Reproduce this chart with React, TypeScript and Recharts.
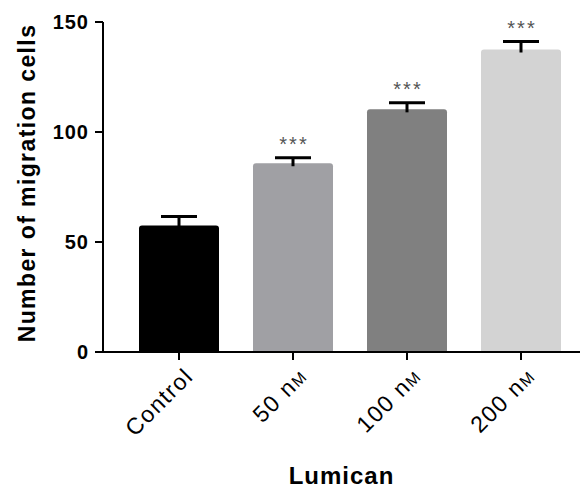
import React from "react";
import { BarChart, Bar, XAxis, YAxis, Rectangle } from "recharts";

const groups = ["Control", "50 nM", "100 nM", "200 nM"];
const means = [57.5, 85.8, 110.3, 137.5];
const sems = [4.1, 2.5, 3.0, 3.6];
const marks = ["", "***", "***", "***"];
const yTicks = [0, 50, 100, 150];

const barColors = ["#000000", "#a0a0a4", "#808080", "#d3d3d3"];

const data = groups.map((name, i) => ({
  name,
  value: means[i],
  err: sems[i],
  mark: marks[i],
  color: barColors[i],
}));

const FONT = "'Liberation Sans', Arial, sans-serif";

function BarWithError(props: any) {
  const { x, y, width, height, payload } = props;
  const ppu = height / payload.value;
  const top = y - payload.err * ppu;
  const cx = x + width / 2;
  return (
    <g>
      <Rectangle x={x} y={y} width={width} height={height} fill={payload.color} radius={[3, 3, 0, 0]} />
      <line x1={cx} x2={cx} y1={top} y2={y + 3} stroke="#000" strokeWidth={3} />
      <line x1={cx - 18} x2={cx + 18} y1={top} y2={top} stroke="#000" strokeWidth={3} />
      {payload.mark && (
        <text x={cx + 1} y={top - 7} textAnchor="middle" fontSize={20} letterSpacing={2} fill="#555" fontFamily={FONT}>
          {payload.mark}
        </text>
      )}
    </g>
  );
}

function XTick(props: any) {
  const { x, y, payload } = props;
  const label: string = payload.value;
  const unit = label.endsWith(" nM");
  return (
    <g transform={`translate(${x + 5},${y + 5})`}>
      <text transform="rotate(-45)" textAnchor="end" dy={15} fontSize={23} letterSpacing={1.5} fill="#000" fontFamily={FONT}>
        {unit ? label.slice(0, -1) : label}
        {unit && <tspan fontSize={16}>M</tspan>}
      </text>
    </g>
  );
}

function YLabel() {
  return (
    <text
      transform="translate(35,183) rotate(-90)"
      textAnchor="middle"
      fontSize={23}
      letterSpacing={1.4}
      fontWeight="bold"
      fill="#000"
      fontFamily={FONT}
    >
      Number of migration cells
    </text>
  );
}

export default function App() {
  return (
    <div style={{ position: "absolute", left: 0, top: 0, background: "#fff" }}>
      <BarChart
        width={588}
        height={490}
        data={data}
        margin={{ top: 22, right: 8, bottom: 0, left: 0 }}
        style={{ fontFamily: FONT }}
      >
        <XAxis
          dataKey="name"
          height={138}
          padding={{ left: 19, right: 2 }}
          axisLine={{ stroke: "#000", strokeWidth: 2 }}
          tickLine={{ stroke: "#000", strokeWidth: 2 }}
          tickSize={8}
          tick={<XTick />}
          interval={0}
          label={{
            value: "Lumican",
            position: "insideBottom",
            offset: 6,
            fontSize: 24,
            letterSpacing: 1,
            fontWeight: "bold",
            fill: "#000",
            fontFamily: FONT,
          }}
        />
        <YAxis
          width={103}
          domain={[0, 150]}
          ticks={yTicks}
          axisLine={{ stroke: "#000", strokeWidth: 2 }}
          tickLine={{ stroke: "#000", strokeWidth: 2 }}
          tickSize={8}
          tickMargin={6}
          tick={{ fontSize: 20, fontWeight: "bold", letterSpacing: 1, fill: "#000", fontFamily: FONT }}
          label={<YLabel />}
        />
        <Bar dataKey="value" barSize={80} shape={<BarWithError />} isAnimationActive={false} />
      </BarChart>
    </div>
  );
}
